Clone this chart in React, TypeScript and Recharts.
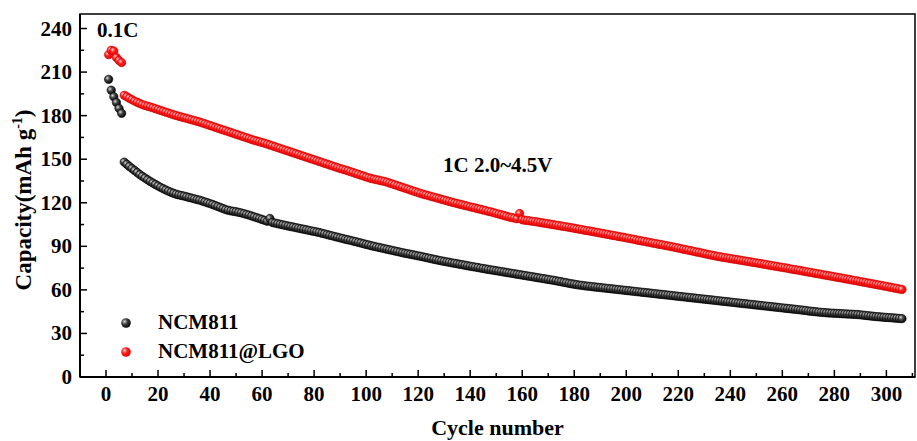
import {
  Legend,
  ReferenceArea,
  Scatter,
  ScatterChart,
  XAxis,
  YAxis,
} from "recharts";

// capacity (mAh/g) per cycle, cycle 1 .. 306
const ncm811 = [
  205.0, 197.5, 193.0, 189.0, 185.0, 181.6, 148.0, 146.5, 145.0, 143.6,
  142.2, 140.8, 139.4, 138.2, 137.0, 135.8, 134.7, 133.6, 132.6, 131.6,
  130.6, 129.7, 128.8, 128.0, 127.2, 126.5, 125.9, 125.4, 125.0, 124.6,
  124.1, 123.6, 123.2, 122.7, 122.2, 121.8, 121.2, 120.6, 120.0, 119.4,
  118.8, 118.1, 117.4, 116.7, 116.0, 115.3, 114.8, 114.4, 114.1, 113.8,
  113.4, 113.0, 112.5, 112.0, 111.5, 110.9, 110.3, 109.7, 109.1, 108.5,
  107.9, 107.3, 109.2, 106.4, 106.0, 105.6, 105.2, 104.8, 104.4, 104.0,
  103.6, 103.3, 102.9, 102.5, 102.1, 101.8, 101.4, 101.0, 100.6, 100.3,
  99.9, 99.5, 99.0, 98.6, 98.1, 97.6, 97.2, 96.7, 96.3, 95.8,
  95.4, 94.9, 94.5, 94.1, 93.6, 93.2, 92.7, 92.3, 91.8, 91.3,
  90.9, 90.4, 90.0, 89.6, 89.2, 88.8, 88.4, 88.0, 87.6, 87.2,
  86.8, 86.4, 86.0, 85.6, 85.2, 84.9, 84.5, 84.2, 83.8, 83.4,
  83.1, 82.7, 82.3, 81.9, 81.5, 81.1, 80.7, 80.3, 80.0, 79.6,
  79.3, 79.0, 78.6, 78.3, 78.0, 77.6, 77.3, 77.0, 76.6, 76.3,
  76.0, 75.7, 75.4, 75.0, 74.7, 74.4, 74.1, 73.8, 73.5, 73.2,
  72.9, 72.6, 72.3, 72.0, 71.7, 71.4, 71.1, 70.8, 70.5, 70.2,
  69.9, 69.6, 69.3, 69.0, 68.7, 68.4, 68.1, 67.8, 67.5, 67.2,
  66.9, 66.6, 66.3, 65.9, 65.6, 65.2, 64.9, 64.5, 64.2, 63.9,
  63.6, 63.3, 63.1, 62.8, 62.6, 62.4, 62.2, 62.0, 61.8, 61.6,
  61.4, 61.2, 61.0, 60.8, 60.6, 60.4, 60.2, 60.0, 59.8, 59.6,
  59.4, 59.2, 59.0, 58.8, 58.6, 58.4, 58.2, 58.0, 57.8, 57.6,
  57.4, 57.2, 57.0, 56.8, 56.6, 56.4, 56.2, 56.0, 55.8, 55.6,
  55.4, 55.2, 55.0, 54.8, 54.6, 54.4, 54.2, 54.0, 53.8, 53.6,
  53.4, 53.2, 53.0, 52.8, 52.6, 52.4, 52.2, 52.0, 51.8, 51.6,
  51.4, 51.2, 51.0, 50.8, 50.6, 50.4, 50.2, 50.0, 49.8, 49.6,
  49.4, 49.2, 49.0, 48.8, 48.6, 48.4, 48.2, 48.0, 47.8, 47.6,
  47.4, 47.2, 47.0, 46.8, 46.6, 46.4, 46.2, 46.0, 45.8, 45.5,
  45.3, 45.1, 44.9, 44.7, 44.5, 44.4, 44.2, 44.1, 44.0, 43.9,
  43.8, 43.7, 43.6, 43.5, 43.4, 43.3, 43.2, 43.1, 43.0, 42.8,
  42.6, 42.4, 42.2, 42.0, 41.8, 41.6, 41.5, 41.3, 41.2, 41.0,
  40.9, 40.8, 40.6, 40.5, 40.3, 40.2,
];

const ncm811Lgo = [
  222.0, 225.0, 224.5, 220.0, 218.0, 216.5, 194.0, 193.0, 192.0, 191.0,
  190.0, 189.2, 188.4, 187.6, 187.0, 186.5, 186.0, 185.4, 184.8, 184.2,
  183.6, 183.0, 182.4, 181.8, 181.2, 180.6, 180.1, 179.6, 179.1, 178.6,
  178.1, 177.6, 177.1, 176.6, 176.1, 175.6, 175.0, 174.4, 173.8, 173.2,
  172.6, 172.0, 171.4, 170.8, 170.2, 169.6, 169.0, 168.4, 167.8, 167.2,
  166.6, 166.0, 165.4, 164.8, 164.2, 163.6, 163.0, 162.5, 162.0, 161.5,
  161.0, 160.4, 159.8, 159.2, 158.6, 158.0, 157.4, 156.8, 156.2, 155.6,
  155.0, 154.4, 153.8, 153.2, 152.6, 152.0, 151.4, 150.8, 150.2, 149.6,
  149.0, 148.4, 147.8, 147.2, 146.6, 146.0, 145.4, 144.8, 144.2, 143.6,
  143.1, 142.6, 142.0, 141.4, 140.8, 140.2, 139.6, 139.0, 138.4, 137.8,
  137.2, 136.7, 136.3, 135.9, 135.5, 135.1, 134.7, 134.2, 133.6, 133.0,
  132.4, 131.8, 131.2, 130.6, 130.0, 129.4, 128.8, 128.2, 127.6, 127.0,
  126.4, 125.9, 125.4, 124.9, 124.4, 123.9, 123.4, 122.9, 122.4, 121.9,
  121.4, 120.9, 120.4, 119.9, 119.5, 119.0, 118.6, 118.1, 117.7, 117.2,
  116.8, 116.4, 115.9, 115.5, 115.0, 114.6, 114.1, 113.7, 113.2, 112.7,
  112.2, 111.7, 111.2, 110.7, 110.2, 109.8, 109.4, 109.0, 112.6, 108.3,
  108.0, 107.8, 107.5, 107.2, 107.0, 106.7, 106.4, 106.1, 105.8, 105.5,
  105.2, 104.9, 104.6, 104.3, 104.0, 103.7, 103.4, 103.1, 102.8, 102.4,
  102.1, 101.8, 101.5, 101.1, 100.8, 100.5, 100.2, 99.8, 99.5, 99.2,
  98.8, 98.5, 98.2, 97.8, 97.5, 97.2, 96.8, 96.5, 96.2, 95.8,
  95.5, 95.1, 94.8, 94.4, 94.0, 93.7, 93.4, 93.0, 92.7, 92.3,
  92.0, 91.6, 91.3, 91.0, 90.6, 90.3, 89.9, 89.6, 89.2, 88.8,
  88.4, 88.0, 87.7, 87.3, 86.9, 86.5, 86.1, 85.8, 85.4, 85.0,
  84.6, 84.2, 83.9, 83.5, 83.1, 82.8, 82.5, 82.2, 81.9, 81.6,
  81.3, 81.0, 80.7, 80.4, 80.1, 79.8, 79.5, 79.2, 78.9, 78.6,
  78.3, 78.0, 77.7, 77.4, 77.0, 76.7, 76.4, 76.1, 75.8, 75.5,
  75.2, 74.9, 74.5, 74.2, 73.9, 73.6, 73.3, 72.9, 72.6, 72.3,
  72.0, 71.6, 71.3, 71.0, 70.7, 70.3, 70.0, 69.7, 69.4, 69.0,
  68.7, 68.4, 68.1, 67.7, 67.4, 67.1, 66.7, 66.4, 66.1, 65.7,
  65.4, 65.1, 64.7, 64.4, 64.1, 63.7, 63.4, 63.1, 62.7, 62.4,
  62.0, 61.7, 61.3, 61.0, 60.6, 60.3,
];

const xTicks = [
  0, 10, 20, 30, 40, 50, 60, 70, 80, 90, 100, 110, 120, 130, 140, 150, 160,
  170, 180, 190, 200, 210, 220, 230, 240, 250, 260, 270, 280, 290, 300, 310,
];
const yTicks = [
  0, 15, 30, 45, 60, 75, 90, 105, 120, 135, 150, 165, 180, 195, 210, 225, 240,
];

const blackData = ncm811.map((cap, i) => ({ cycle: i + 1, cap }));
const redData = ncm811Lgo.map((cap, i) => ({ cycle: i + 1, cap }));

const FONT = '"Liberation Serif", "Times New Roman", serif';

const XTick = ({ x, y, payload }: any) => {
  const major = payload.value % 20 === 0;
  return (
    <g>
      <line x1={x} y1={y} x2={x} y2={y - (major ? 7 : 4)} stroke="#000" strokeWidth={1.5} />
      {major && (
        <text x={x} y={y + 24} textAnchor="middle" fontFamily={FONT} fontWeight="bold" fontSize={21} fill="#000">
          {payload.value}
        </text>
      )}
    </g>
  );
};

const YTick = ({ x, y, payload }: any) => {
  const major = payload.value % 30 === 0;
  return (
    <g>
      <line x1={x} y1={y} x2={x + (major ? 7 : 4)} y2={y} stroke="#000" strokeWidth={1.5} />
      {major && (
        <text x={x - 8} y={y + 7} textAnchor="end" fontFamily={FONT} fontWeight="bold" fontSize={21} fill="#000">
          {payload.value}
        </text>
      )}
    </g>
  );
};

const dot = (fill: string, stroke: string) => (props: any) => (
  <circle cx={props.cx} cy={props.cy} r={4.2} fill={fill} stroke={stroke} strokeWidth={0.6} />
);

const LegendBox = () => (
  <div style={{ fontFamily: FONT, fontWeight: "bold", fontSize: 21, color: "#000" }}>
    {[
      { name: "NCM811", fill: "url(#gBlack)" },
      { name: "NCM811@LGO", fill: "url(#gRed)" },
    ].map((it) => (
      <div key={it.name} style={{ display: "flex", alignItems: "center", height: 29 }}>
        <svg width={12} height={12} style={{ marginRight: 26 }}>
          <circle cx={6} cy={6} r={4.8} fill={it.fill} />
        </svg>
        {it.name}
      </div>
    ))}
  </div>
);

export default function App() {
  return (
    <div style={{ position: "relative", width: 917, height: 441, background: "#fff" }}>
      <style>{"body{margin:0;overflow:hidden}"}</style>
      <svg width={0} height={0} style={{ position: "absolute" }}>
        <defs>
          <radialGradient id="gBlack" cx="35%" cy="35%" r="70%">
            <stop offset="0%" stopColor="#d8d8d8" />
            <stop offset="40%" stopColor="#444" />
            <stop offset="100%" stopColor="#000" />
          </radialGradient>
          <radialGradient id="gRed" cx="35%" cy="35%" r="70%">
            <stop offset="0%" stopColor="#ffd6d6" />
            <stop offset="40%" stopColor="#ff2020" />
            <stop offset="100%" stopColor="#e00000" />
          </radialGradient>
        </defs>
      </svg>
      <ScatterChart width={917} height={441} margin={{ top: 14, right: 2, bottom: 0, left: 0 }}>
        <XAxis
          type="number"
          dataKey="cycle"
          domain={[-10, 311]}
          ticks={xTicks}
          interval={0}
          height={64}
          tickSize={0}
          tickMargin={0}
          tickLine={false}
          tick={<XTick />}
          axisLine={{ stroke: "#000", strokeWidth: 2 }}
          label={{ value: "Cycle number", position: "insideBottom", offset: 6, fontFamily: FONT, fontWeight: "bold", fontSize: 22, fill: "#000" }}
        />
        <YAxis
          type="number"
          dataKey="cap"
          domain={[0, 250]}
          ticks={yTicks}
          interval={0}
          width={80}
          tickSize={0}
          tickMargin={0}
          tickLine={false}
          tick={<YTick />}
          axisLine={{ stroke: "#000", strokeWidth: 2 }}
          label={{
            content: () => (
              <text
                x={31}
                y={200}
                transform="rotate(-90 31 200)"
                textAnchor="middle"
                fontFamily={FONT}
                fontWeight="bold"
                fontSize={23}
                fill="#000"
              >
                Capacity(mAh g<tspan dy={-9} fontSize={14}>-1</tspan>
                <tspan dy={9}>)</tspan>
              </text>
            ),
          }}
        />
        <ReferenceArea x1={-10} x2={311} y1={0} y2={250} fill="none" stroke="#000" strokeWidth={1.5} />
        <Scatter name="NCM811" data={blackData} shape={dot("url(#gBlack)", "#000")} isAnimationActive={false} />
        <Scatter name="NCM811@LGO" data={redData} shape={dot("url(#gRed)", "#d00000")} isAnimationActive={false} />
        <Legend
          layout="vertical"
          align="center"
          verticalAlign="middle"
          content={<LegendBox />}
          wrapperStyle={{ left: 120, top: 308, width: "auto" }}
        />
      </ScatterChart>
      <div style={{ position: "absolute", left: 97, top: 18, fontFamily: FONT, fontWeight: "bold", fontSize: 21 }}>0.1C</div>
      <div style={{ position: "absolute", left: 443, top: 153, fontFamily: FONT, fontWeight: "bold", fontSize: 21 }}>1C 2.0~4.5V</div>
    </div>
  );
}
